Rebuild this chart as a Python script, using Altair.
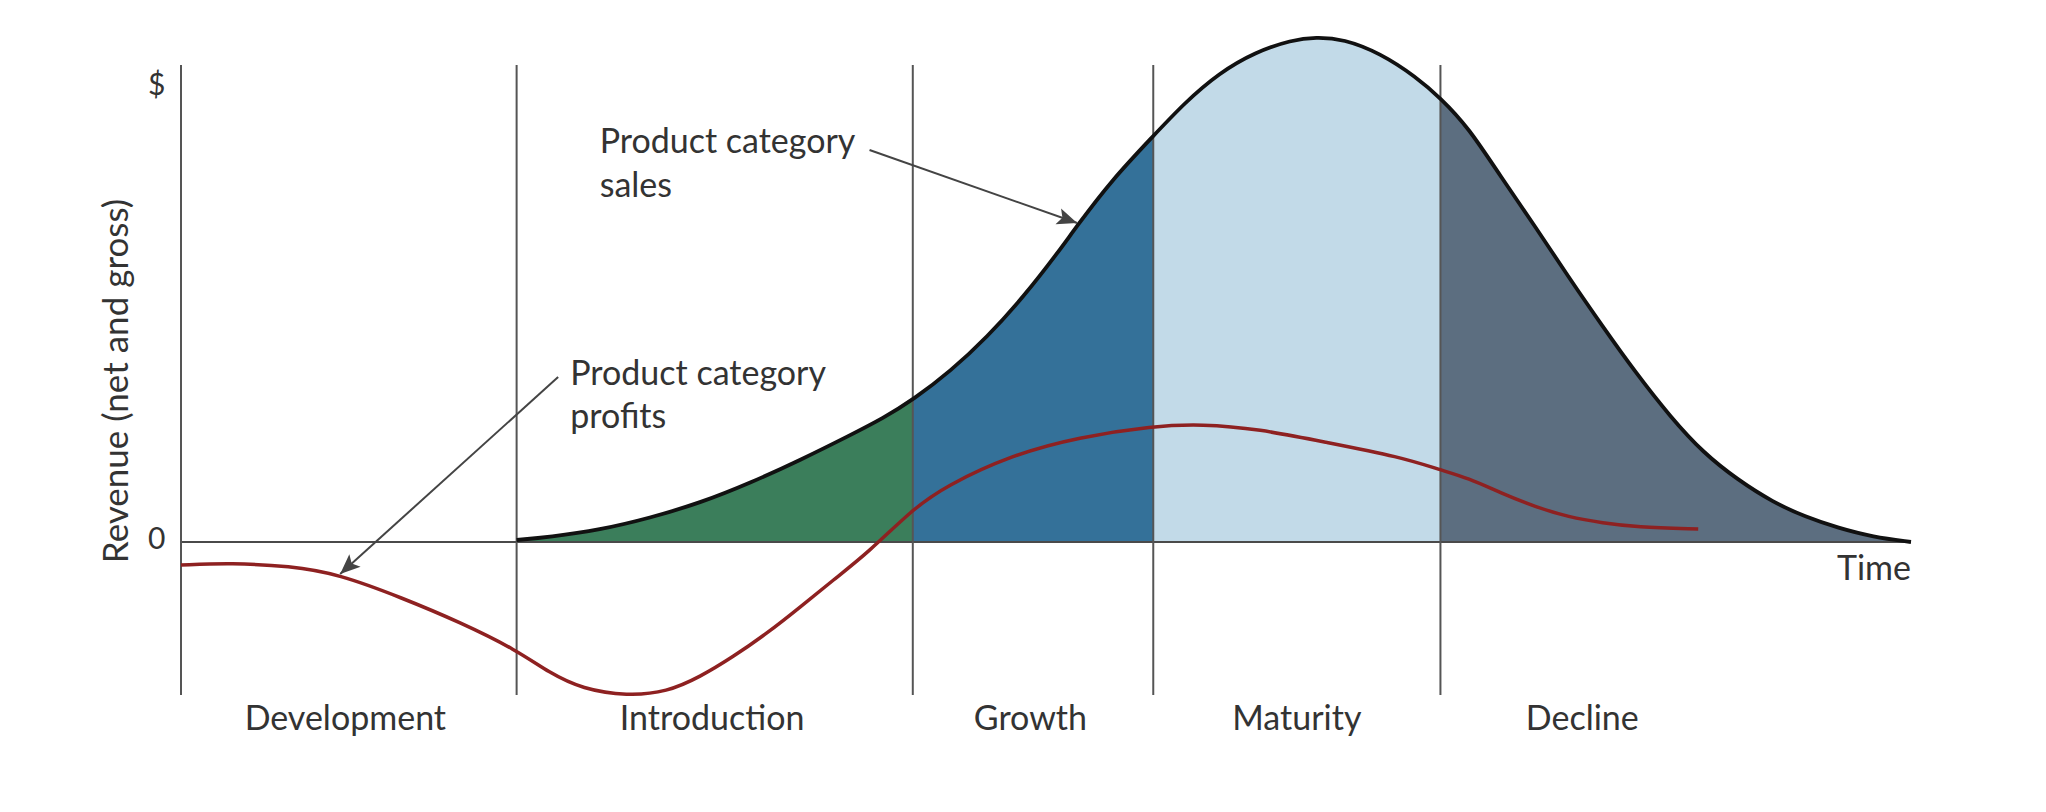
import altair as alt
import pandas as pd

# ---- data (time on 0..100, revenue in arbitrary units, 0 = break-even) ----
sales_x = [19.4, 21.3, 24.2, 27.1, 30.0, 32.9, 35.8, 38.7, 40.6, 42.3, 44.5, 46.6, 48.7,
           50.8, 51.7, 53.8, 56.2, 58.0, 60.0, 62.1, 64.2, 65.6, 67.2, 69.3, 71.4, 72.8,
           74.4, 76.3, 78.3, 80.2, 82.2, 84.1, 86.1, 88.0, 90.0, 92.0, 93.9, 95.8, 97.8, 100.0]
sales_y = [0.4, 1.0, 2.4, 4.8, 7.8, 11.8, 16.4, 21.4, 24.8, 28.4, 34.2, 41.0, 49.0,
           58.4, 62.8, 72.4, 81.2, 87.8, 93.8, 98.0, 100.4, 101.0, 100.6, 97.8, 93.0, 88.8,
           83.0, 73.0, 63.0, 53.0, 43.0, 33.8, 25.0, 17.8, 12.4, 8.0, 5.0, 2.8, 1.0, 0.0]

profit_x = [0.0, 2.9, 6.3, 9.1, 12.8, 16.1, 19.4, 21.3, 23.2, 25.8, 28.1, 30.0, 31.9, 33.9,
            35.8, 37.7, 39.7, 42.3, 44.2, 48.0, 51.9, 56.2, 59.0, 62.3, 66.1, 70.5, 72.8,
            74.4, 76.3, 78.3, 80.2, 82.2, 84.1, 87.7]
profit_y = [-4.6, -4.2, -4.8, -6.4, -11.2, -16.0, -21.6, -26.2, -29.4, -30.8, -30.0, -27.0,
            -23.0, -18.2, -13.0, -7.6, -2.2, 6.6, 11.2, 17.4, 21.0, 23.2, 23.6, 22.6, 20.0,
            17.0, 14.4, 12.8, 9.8, 7.0, 5.0, 3.8, 3.0, 2.6]

stage_names = ["Development", "Introduction", "Growth", "Maturity", "Decline"]
stage_bounds = [0.0, 19.4, 42.3, 56.2, 72.8, 100.0]
stage_label_x = [9.5, 30.7, 49.1, 64.5, 81.0]
stage_fill = ["#ffffff", "#3b7e5b", "#347199", "#c2dae8", "#5c6e80"]

annot_text = ["Product category", "sales", "Product category", "profits"]
annot_x = [24.2, 24.2, 22.5, 22.5]
annot_y = [77.8, 69.0, 31.4, 22.8]

arrow_x = [39.8, 21.8]
arrow_y = [78.4, 33.0]
arrow_tip_x = [51.8, 9.2]
arrow_tip_y = [63.8, -6.4]
arrow_angle = [19.4, 137.8]

line_top = 95.4
line_bottom = -30.6

FONT = "Lato"
TXT = "#333333"

# ---- tables built from the arrays ----
sales_df = pd.DataFrame({"t": sales_x, "v": sales_y})
profit_df = pd.DataFrame({"t": profit_x, "v": profit_y})
vlines_df = pd.DataFrame({"t": stage_bounds[:5], "y1": [line_bottom] * 5, "y2": [line_top] * 5})
stage_df = pd.DataFrame({"t": stage_label_x, "label": stage_names, "v": [-37.6] * 5})
annot_df = pd.DataFrame({"t": annot_x, "v": annot_y, "label": annot_text})
arrow_df = pd.DataFrame({"x1": arrow_x, "y1": arrow_y, "x2": arrow_tip_x, "y2": arrow_tip_y,
                         "ang": arrow_angle})
zero_df = pd.DataFrame({"x1": [0.0], "x2": [100.0], "v": [0.0]})
ticks_df = pd.DataFrame({"t": [-1.4, -1.4], "v": [91.2, 0.4], "label": ["$", "0"]})
ytitle_df = pd.DataFrame({"t": [-3.7], "v": [32.2], "label": ["Revenue (net and gross)"]})
time_df = pd.DataFrame({"t": [100.0], "v": [-7.6], "label": ["Time"]})

# hard-edged horizontal gradient: one colour band per life-cycle stage
x0, x1 = sales_x[0], sales_x[-1]
stops = []
for i in range(1, 5):
    lo = (stage_bounds[i] - x0) / (x1 - x0)
    hi = (stage_bounds[i + 1] - x0) / (x1 - x0)
    stops.append(alt.GradientStop(offset=max(0.0, min(1.0, lo)), color=stage_fill[i]))
    stops.append(alt.GradientStop(offset=max(0.0, min(1.0, hi)), color=stage_fill[i]))
fill = alt.Gradient(gradient="linear", stops=stops, x1=0, x2=1, y1=0, y2=0)

xs = alt.Scale(domain=[0, 100], nice=False, zero=False)
ys = alt.Scale(domain=[-31.6, 102.4], nice=False, zero=False)


def X(f):
    return alt.X(f, type="quantitative", scale=xs, axis=None)


def Y(f):
    return alt.Y(f, type="quantitative", scale=ys, axis=None)


areas = alt.Chart(sales_df).mark_area(interpolate="basis", opacity=1, color=fill).encode(
    x=X("t"), y=Y("v"), y2=alt.datum(0))

zero_line = alt.Chart(zero_df).mark_rule(color="#4a4a4a", strokeWidth=2).encode(
    x=X("x1"), x2="x2", y=Y("v"))

vlines = alt.Chart(vlines_df).mark_rule(color="#555555", strokeWidth=2).encode(
    x=X("t"), y=Y("y1"), y2="y2")

profit_line = alt.Chart(profit_df).mark_line(interpolate="basis", color="#8e2121",
                                             strokeWidth=3.5).encode(x=X("t"), y=Y("v"))

sales_line = alt.Chart(sales_df).mark_line(interpolate="basis", color="#111111",
                                           strokeWidth=3.8).encode(x=X("t"), y=Y("v"))

arrow_lines = alt.Chart(arrow_df).mark_rule(color="#444444", strokeWidth=2).encode(
    x=X("x1"), y=Y("y1"), x2="x2", y2="y2")

arrow_heads = alt.Chart(arrow_df).mark_point(
    shape="M0,0 L-1,-0.42 L-0.78,0 L-1,0.42 Z", filled=True, opacity=1,
    color="#444444", size=1600, strokeWidth=0,
).encode(x=X("x2"), y=Y("y2"), angle=alt.Angle("ang:Q", scale=None))

annots = alt.Chart(annot_df).mark_text(
    align="left", baseline="alphabetic", font=FONT, fontSize=34, color=TXT
).encode(x=X("t"), y=Y("v"), text="label:N")

stage_text = alt.Chart(stage_df).mark_text(
    align="center", baseline="alphabetic", font=FONT, fontSize=34, color=TXT
).encode(x=X("t"), y=Y("v"), text="label:N")

tick_text = alt.Chart(ticks_df).mark_text(
    align="center", baseline="middle", font=FONT, fontSize=30, color=TXT
).encode(x=X("t"), y=Y("v"), text="label:N")

ytitle = alt.Chart(ytitle_df).mark_text(
    align="center", baseline="middle", angle=270, font=FONT, fontSize=35, color=TXT
).encode(x=X("t"), y=Y("v"), text="label:N")

time_text = alt.Chart(time_df).mark_text(
    align="right", baseline="alphabetic", font=FONT, fontSize=34, color=TXT
).encode(x=X("t"), y=Y("v"), text="label:N")

chart = alt.layer(
    areas, zero_line, vlines, profit_line, sales_line, arrow_lines, arrow_heads,
    annots, stage_text, tick_text, ytitle, time_text,
).properties(
    width=1730, height=670,
    autosize=alt.AutoSizeParams(type="none"),
    padding={"left": 181, "top": 30, "right": 135, "bottom": 112},
    background="white",
).configure_view(stroke=None)

chart.save("out.html", embed_options={"renderer": "svg", "actions": False})
